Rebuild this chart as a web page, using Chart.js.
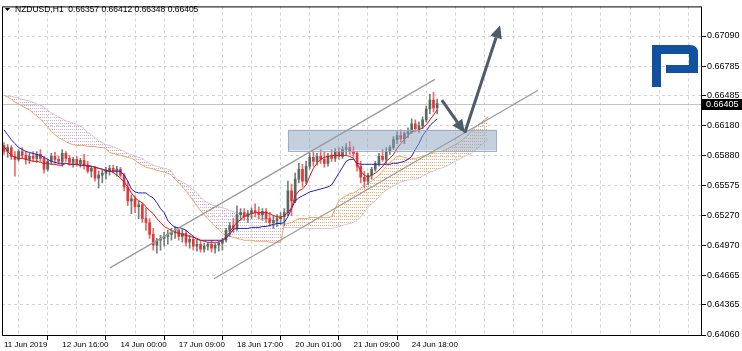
<!DOCTYPE html>
<html>
<head>
<meta charset="utf-8">
<script src="https://cdn.jsdelivr.net/npm/chart.js@4.4.0/dist/chart.umd.min.js"></script>
<style>
html,body{margin:0;padding:0;background:#fff}
#wrap{width:742px;height:351px;position:relative}
</style>
</head>
<body>
<div id="wrap"><canvas id="c"></canvas></div>
<script>
// NZDUSD, one bar every 2 hours
const title = "NZDUSD,H1  0.66357 0.66412 0.66348 0.66405";
const timeLabels = ["11 Jun 2019","12 Jun 16:00","14 Jun 00:00","17 Jun 09:00","18 Jun 17:00","20 Jun 01:00","21 Jun 09:00","24 Jun 18:00"];
const timeLabelBars = [0,16,32,48,64,80,96,112];
const priceTicks = [0.67090,0.66785,0.66485,0.66180,0.65880,0.65575,0.65270,0.64970,0.64665,0.64365,0.64060];
const lastPrice = 0.66405;

const open = [
0.6598,0.6592,0.6596,0.6587,0.6584,0.6592,0.6588,0.6584,0.6587,0.6585,
0.6589,0.6585,0.6574,0.6582,0.6587,0.6584,0.6582,0.6590,0.6585,0.6581,
0.6584,0.6580,0.6583,0.6578,0.6572,0.6575,0.6565,0.6568,0.6570,0.6572,
0.6575,0.6572,0.6574,0.6568,0.6556,0.6542,0.6544,0.6536,0.6538,0.6524,
0.6520,0.6508,0.6497,0.6502,0.6504,0.6506,0.6508,0.6510,0.6512,0.6506,
0.6509,0.6500,0.6503,0.6496,0.6498,0.6493,0.6496,0.6498,0.6494,0.6497,
0.6499,0.6502,0.6512,0.6517,0.6514,0.6528,0.6530,0.6526,0.6529,0.6532,
0.6530,0.6528,0.6531,0.6524,0.6520,0.6522,0.6524,0.6526,0.6530,0.6552,
0.6542,0.6564,0.6574,0.6562,0.6577,0.6586,0.6582,0.6587,0.6584,0.6580,
0.6587,0.6585,0.6592,0.6587,0.6594,0.6596,0.6592,0.6590,0.6577,0.6566,
0.6562,0.6568,0.6574,0.6580,0.6587,0.6584,0.6592,0.6596,0.6604,0.6608,
0.6605,0.6610,0.6612,0.6620,0.6615,0.6618,0.6624,0.6635,0.6644,0.6636];
const high = [
0.6601,0.6599,0.6598,0.6592,0.6594,0.6596,0.6592,0.6590,0.6592,0.6592,
0.6594,0.6587,0.6584,0.6590,0.6591,0.6587,0.6594,0.6592,0.6588,0.6586,
0.6587,0.6585,0.6589,0.6582,0.6577,0.6577,0.6572,0.6573,0.6576,0.6578,
0.6578,0.6577,0.6576,0.6570,0.6562,0.6548,0.6547,0.6542,0.6540,0.6535,
0.6524,0.6514,0.6504,0.6507,0.6510,0.6512,0.6514,0.6516,0.6514,0.6513,
0.6512,0.6507,0.6506,0.6502,0.6501,0.6499,0.6500,0.6502,0.6499,0.6501,
0.6504,0.6514,0.6520,0.6524,0.6537,0.6534,0.6534,0.6532,0.6535,0.6539,
0.6536,0.6534,0.6534,0.6530,0.6527,0.6528,0.6530,0.6534,0.6562,0.6559,
0.6570,0.6580,0.6579,0.6582,0.6590,0.6592,0.6590,0.6594,0.6592,0.6590,
0.6594,0.6595,0.6596,0.6597,0.6600,0.6602,0.6597,0.6592,0.6582,0.6572,
0.6570,0.6576,0.6582,0.6590,0.6594,0.6596,0.6598,0.6607,0.6612,0.6614,
0.6612,0.6616,0.6625,0.6624,0.6622,0.6627,0.6638,0.6650,0.6652,0.6645];
const low = [
0.6589,0.6586,0.6584,0.6567,0.6582,0.6585,0.6579,0.6580,0.6582,0.6581,
0.6582,0.6570,0.6572,0.6579,0.6580,0.6579,0.6577,0.6582,0.6578,0.6576,
0.6577,0.6576,0.6574,0.6570,0.6566,0.6562,0.6555,0.6560,0.6564,0.6568,
0.6570,0.6567,0.6566,0.6552,0.6537,0.6529,0.6530,0.6524,0.6520,0.6512,
0.6504,0.6492,0.6489,0.6492,0.6496,0.6498,0.6502,0.6504,0.6502,0.6500,
0.6496,0.6494,0.6492,0.6491,0.6490,0.6490,0.6492,0.6490,0.6489,0.6491,
0.6492,0.6500,0.6506,0.6510,0.6512,0.6522,0.6522,0.6520,0.6524,0.6526,
0.6524,0.6522,0.6520,0.6516,0.6514,0.6516,0.6518,0.6517,0.6527,0.6527,
0.6540,0.6560,0.6556,0.6559,0.6574,0.6577,0.6578,0.6580,0.6576,0.6577,
0.6582,0.6582,0.6584,0.6585,0.6589,0.6589,0.6586,0.6572,0.6560,0.6555,
0.6558,0.6564,0.6572,0.6577,0.6582,0.6580,0.6589,0.6594,0.6600,0.6602,
0.6600,0.6606,0.6610,0.6612,0.6611,0.6615,0.6622,0.6630,0.6632,0.6630];
const close = [
0.6592,0.6596,0.6587,0.6584,0.6592,0.6588,0.6584,0.6587,0.6585,0.6589,
0.6585,0.6574,0.6582,0.6587,0.6584,0.6582,0.6590,0.6585,0.6581,0.6584,
0.6580,0.6583,0.6578,0.6572,0.6575,0.6565,0.6568,0.6570,0.6572,0.6575,
0.6572,0.6574,0.6568,0.6556,0.6542,0.6544,0.6536,0.6538,0.6524,0.6520,
0.6508,0.6497,0.6502,0.6504,0.6506,0.6508,0.6510,0.6512,0.6506,0.6509,
0.6500,0.6503,0.6496,0.6498,0.6493,0.6496,0.6498,0.6494,0.6497,0.6499,
0.6502,0.6512,0.6517,0.6514,0.6528,0.6530,0.6526,0.6529,0.6532,0.6530,
0.6528,0.6531,0.6524,0.6520,0.6522,0.6524,0.6526,0.6530,0.6552,0.6542,
0.6564,0.6574,0.6562,0.6577,0.6586,0.6582,0.6587,0.6584,0.6580,0.6587,
0.6585,0.6592,0.6587,0.6594,0.6596,0.6592,0.6590,0.6577,0.6566,0.6562,
0.6568,0.6574,0.6580,0.6587,0.6584,0.6592,0.6596,0.6604,0.6608,0.6605,
0.6610,0.6612,0.6620,0.6615,0.6618,0.6624,0.6635,0.6644,0.6636,0.66405];

// ichimoku lines
const tenkan = [
0.6597,0.6592,0.6588,0.6586,0.6585,0.6585,0.6584,0.6583,0.6582,0.6582,
0.6581,0.6580,0.6580,0.6579,0.6579,0.6578,0.6578,0.6580,0.6579,0.6579,
0.6579,0.6578,0.6578,0.6578,0.6577,0.6576,0.6575,0.6574,0.6572,0.6572,
0.6571,0.6568,0.6565,0.6561,0.6556,0.6550,0.6545,0.6542,0.6540,0.6536,
0.6532,0.6529,0.6524,0.6520,0.6516,0.6514,0.6512,0.6510,0.6509,0.6508,
0.6507,0.6506,0.6505,0.6504,0.6502,0.6501,0.6500,0.6500,0.6500,0.6500,
0.6502,0.6506,0.6510,0.6516,0.6520,0.6523,0.6526,0.6528,0.6529,0.6530,
0.6530,0.6530,0.6530,0.6529,0.6527,0.6526,0.6525,0.6527,0.6530,0.6535,
0.6547,0.6552,0.6554,0.6558,0.6567,0.6575,0.6580,0.6584,0.6586,0.6587,
0.6588,0.6588,0.6588,0.6588,0.6588,0.6587,0.6585,0.6579,0.6572,0.6568,
0.6566,0.6568,0.6570,0.6573,0.6577,0.6582,0.6585,0.6589,0.6595,0.6600,
0.6604,0.6608,0.6612,0.6613,0.6614,0.6616,0.6619,0.6624,0.6629,0.6634];
const kijun = [
0.6614,0.6609,0.6604,0.6600,0.6596,0.6594,0.6592,0.6591,0.6590,0.6589,
0.6588,0.6586,0.6584,0.6582,0.6581,0.6580,0.6580,0.6580,0.6579,0.6579,
0.6579,0.6578,0.6578,0.6577,0.6577,0.6576,0.6575,0.6574,0.6573,0.6572,
0.6572,0.6572,0.6572,0.6568,0.6562,0.6554,0.6551,0.6550,0.6550,0.6550,
0.6547,0.6545,0.6540,0.6534,0.6530,0.6522,0.6518,0.6515,0.6515,0.6514,
0.6512,0.6509,0.6506,0.6503,0.6502,0.6502,0.6502,0.6502,0.6502,0.6502,
0.6502,0.6504,0.6508,0.6513,0.6514,0.6514,0.6514,0.6514,0.6515,0.6515,
0.6515,0.6516,0.6516,0.6517,0.6518,0.6519,0.6519,0.6520,0.6526,0.6534,
0.6542,0.6545,0.6547,0.6549,0.6551,0.6552,0.6553,0.6554,0.6555,0.6556,
0.6558,0.6564,0.6570,0.6576,0.6582,0.6584,0.6584,0.6580,0.6579,0.6579,
0.6579,0.6579,0.6579,0.6579,0.6579,0.6579,0.6579,0.6580,0.6580,0.6581,
0.6582,0.6584,0.6587,0.6594,0.6600,0.6608,0.6613,0.6618,0.6622,0.6625];
// cloud, runs 13 bars past the last candle
const spanA = [
0.6649,0.6647,0.6645,0.6642,0.6640,0.6638,0.6636,0.6634,0.6631,0.6628,
0.6625,0.6621,0.6617,0.6612,0.6609,0.6606,0.6604,0.6602,0.6600,0.6599,
0.6598,0.6598,0.6598,0.6597,0.6597,0.6597,0.6596,0.6596,0.6595,0.6591,
0.6590,0.6589,0.6588,0.6587,0.6586,0.6585,0.6583,0.6580,0.6578,0.6576,
0.6575,0.6574,0.6573,0.6572,0.6571,0.6570,0.6568,0.6564,0.6560,0.6556,
0.6552,0.6547,0.6542,0.6537,0.6532,0.6528,0.6524,0.6520,0.6516,0.6513,
0.6509,0.6507,0.6506,0.6505,0.6504,0.6503,0.6502,0.6502,0.6502,0.6501,
0.6501,0.6501,0.6501,0.6500,0.6500,0.6500,0.6500,0.6518,0.6519,0.6520,
0.6522,0.6524,0.6524,0.6524,0.6525,0.6525,0.6525,0.6525,0.6525,0.6525,
0.6526,0.6534,0.6542,0.6545,0.6547,0.6549,0.6550,0.6552,0.6555,0.6557,
0.6560,0.6562,0.6565,0.6568,0.6572,0.6577,0.6581,0.6584,0.6587,0.6587,
0.6586,0.6585,0.6585,0.6585,0.6586,0.6587,0.6588,0.6590,0.6591,0.6592,
0.6592,0.6593,0.6595,0.6597,0.6599,0.6601,0.6604,0.6607,0.6611,0.6615,
0.6618,0.6621,0.6624,0.6627];
const spanB = [
0.6649,0.6648,0.6648,0.6647,0.6646,0.6645,0.6644,0.6643,0.6642,0.6640,
0.6639,0.6637,0.6634,0.6631,0.6629,0.6627,0.6625,0.6623,0.6622,0.6621,
0.6619,0.6618,0.6615,0.6611,0.6609,0.6606,0.6603,0.6601,0.6599,0.6598,
0.6597,0.6595,0.6594,0.6592,0.6590,0.6589,0.6587,0.6586,0.6585,0.6582,
0.6580,0.6578,0.6577,0.6576,0.6575,0.6574,0.6572,0.6566,0.6563,0.6561,
0.6559,0.6556,0.6553,0.6550,0.6546,0.6542,0.6540,0.6538,0.6537,0.6536,
0.6535,0.6534,0.6532,0.6531,0.6530,0.6529,0.6529,0.6528,0.6527,0.6526,
0.6525,0.6524,0.6524,0.6523,0.6522,0.6521,0.6520,0.6515,0.6515,0.6515,
0.6515,0.6515,0.6515,0.6514,0.6514,0.6514,0.6514,0.6514,0.6514,0.6514,
0.6514,0.6515,0.6516,0.6517,0.6518,0.6519,0.6520,0.6522,0.6526,0.6530,
0.6535,0.6539,0.6542,0.6546,0.6550,0.6553,0.6555,0.6557,0.6559,0.6561,
0.6562,0.6563,0.6564,0.6564,0.6565,0.6567,0.6569,0.6571,0.6572,0.6574,
0.6575,0.6576,0.6578,0.6580,0.6582,0.6584,0.6586,0.6588,0.6589,0.6592,
0.6595,0.6598,0.6601,0.6604];

// drawings on the chart, [bar, price]
const channelUpper = [[29.1, 0.6474], [118.4, 0.6665]];
const channelLower = [[57.7, 0.6463], [146.7, 0.6654]];
const zoneBars = [78.0, 135.2];
const zonePrices = [0.6593, 0.6614];
const arrowDown = [[120.3, 0.6644], [126.6, 0.6611]];
const arrowUp = [[126.6, 0.6611], [136.3, 0.6720]];

const ctx = document.getElementById('c').getContext('2d');

function dots(color) {
  const s = document.createElement('canvas');
  s.width = 2; s.height = 3;
  const g = s.getContext('2d');
  g.fillStyle = color;
  g.fillRect(0, 0, 1, 1);
  return ctx.createPattern(s, 'repeat');
}

const bull = '#566a60', bear = '#e3373a';
const isUp = close.map((c, i) => c >= open[i]);
const pts = arr => arr.map((v, i) => ({x: i, y: v}));

const drawings = {
  id: 'drawings',
  beforeDatasetsDraw(chart) {
    const c = chart.ctx, a = chart.chartArea, y = chart.scales.y;
    c.save();
    // logo
    c.fillStyle = '#12519f';
    c.beginPath();
    c.moveTo(652, 45); c.lineTo(690, 45);
    c.quadraticCurveTo(698, 45, 698, 53);
    c.lineTo(698, 73); c.lineTo(666, 73); c.lineTo(666, 65);
    c.lineTo(689, 65); c.lineTo(689, 54); c.lineTo(661, 54);
    c.lineTo(661, 87); c.lineTo(652, 87); c.closePath();
    c.fill();
    // price line
    const py = Math.round(y.getPixelForValue(lastPrice)) + 0.5;
    c.strokeStyle = '#c4c4c4'; c.lineWidth = 1;
    c.beginPath(); c.moveTo(a.left, py); c.lineTo(a.right, py); c.stroke();
    c.restore();
  },
  afterDatasetsDraw(chart) {
    const c = chart.ctx, a = chart.chartArea, xs = chart.scales.x, ys = chart.scales.y;
    const P = p => [xs.getPixelForValue(p[0]), ys.getPixelForValue(p[1])];
    c.save();
    c.beginPath(); c.rect(a.left, a.top, a.width, a.height); c.clip();
    // zone
    const x0 = xs.getPixelForValue(zoneBars[0]), x1 = xs.getPixelForValue(zoneBars[1]);
    const y0 = ys.getPixelForValue(zonePrices[1]), y1 = ys.getPixelForValue(zonePrices[0]);
    c.fillStyle = 'rgba(140,162,192,0.5)';
    c.fillRect(x0, y0, x1 - x0, y1 - y0);
    c.strokeStyle = 'rgba(150,170,200,0.9)'; c.lineWidth = 1;
    c.strokeRect(Math.round(x0) + 0.5, Math.round(y0) + 0.5, Math.round(x1 - x0), Math.round(y1 - y0));
    // channel
    c.strokeStyle = '#9c9c9c'; c.lineWidth = 1.3;
    [channelUpper, channelLower].forEach(l => {
      const p = P(l[0]), q = P(l[1]);
      c.beginPath(); c.moveTo(p[0], p[1]); c.lineTo(q[0], q[1]); c.stroke();
    });
    // arrows
    c.strokeStyle = '#4b5c6a'; c.fillStyle = '#4b5c6a'; c.lineWidth = 3;
    [arrowDown, arrowUp].forEach(l => {
      const p = P(l[0]), q = P(l[1]);
      const ang = Math.atan2(q[1] - p[1], q[0] - p[0]);
      const len = 13, hw = 6;
      const bx = q[0] - len * Math.cos(ang), by = q[1] - len * Math.sin(ang);
      c.beginPath(); c.moveTo(p[0], p[1]); c.lineTo(bx, by); c.stroke();
      c.beginPath();
      c.moveTo(q[0], q[1]);
      c.lineTo(bx + hw * Math.sin(ang), by - hw * Math.cos(ang));
      c.lineTo(bx - hw * Math.sin(ang), by + hw * Math.cos(ang));
      c.closePath(); c.fill();
    });
    c.restore();
  },
  afterDraw(chart) {
    const c = chart.ctx, a = chart.chartArea, ys = chart.scales.y;
    c.save();
    c.strokeStyle = '#000'; c.lineWidth = 1;
    c.strokeRect(a.left + 0.5, a.top + 0.5, a.width - 1, a.height - 1);
    // title
    c.fillStyle = '#000';
    c.beginPath(); c.moveTo(5, 8); c.lineTo(10, 8); c.lineTo(7.5, 11); c.closePath(); c.fill();
    c.font = "8.5px 'Liberation Sans'";
    c.textBaseline = 'middle'; c.textAlign = 'left';
    c.fillText(title, 15, 10);
    // current price tag
    const py = Math.round(ys.getPixelForValue(lastPrice));
    c.fillRect(a.right, py - 5, 40, 11);
    c.fillStyle = '#fff';
    c.font = "9px 'Liberation Sans'";
    c.fillText(lastPrice.toFixed(5), a.right + 4, py + 0.5);
    c.restore();
  }
};

new Chart(ctx, {
  type: 'bar',
  data: {
    datasets: [
      {type: 'line', data: pts(tenkan), borderColor: '#e01212', borderWidth: 1, pointRadius: 0, fill: false, order: 0},
      {type: 'line', data: pts(kijun), borderColor: '#1f1fc8', borderWidth: 1, pointRadius: 0, fill: false, order: 1},
      {type: 'bar', data: open.map((o, i) => ({x: i, y: [Math.min(o, close[i]), Math.max(o, close[i])]})),
        backgroundColor: isUp.map(u => u ? bull : bear), barThickness: 2, minBarLength: 1, grouped: false, order: 2},
      {type: 'bar', data: high.map((h, i) => ({x: i, y: [low[i], h]})),
        backgroundColor: isUp.map(u => u ? '#72827a' : '#ee6a6a'), barThickness: 1, grouped: false, order: 3},
      {type: 'line', data: pts(spanA), borderColor: '#f2a464', borderWidth: 1, pointRadius: 0,
        fill: {target: '+1', above: dots('#f3a868'), below: dots('#cfaed2')}, order: 4},
      {type: 'line', data: pts(spanB), borderColor: '#dcc4dc', borderWidth: 1, pointRadius: 0, fill: false, order: 5}
    ]
  },
  options: {
    responsive: true,
    maintainAspectRatio: false,
    animation: false,
    devicePixelRatio: 1,
    layout: {padding: {left: 2, top: 3, right: 0, bottom: 0}},
    plugins: {legend: {display: false}, tooltip: {enabled: false}},
    scales: {
      x: {
        type: 'linear', min: -0.55, max: 191.76, offset: false,
        afterBuildTicks: s => {
          const t = [];
          for (let v = 0; v <= 184; v += 8) t.push({value: v});
          s.ticks = t;
        },
        afterFit: s => { s.height = 15; },
        ticks: {
          autoSkip: false, maxRotation: 0, minRotation: 0, align: 'start', padding: 0,
          color: '#000', font: {family: 'Liberation Sans', size: 8},
          callback: v => { const k = timeLabelBars.indexOf(v); return k >= 0 ? timeLabels[k] : ''; }
        },
        grid: {
          color: '#d4d4d4', lineWidth: 1, tickLength: 4,
          tickColor: c => (c.tick && timeLabelBars.indexOf(c.tick.value) >= 0) ? '#000' : 'rgba(0,0,0,0)'
        },
        border: {display: false, dash: [3, 3]}
      },
      y: {
        position: 'right', min: 0.64050, max: 0.67390,
        afterBuildTicks: s => { s.ticks = priceTicks.map(v => ({value: v})); },
        afterFit: s => { s.width = 40; },
        ticks: {
          color: '#000', font: {family: 'Liberation Sans', size: 9}, padding: 1,
          callback: v => v.toFixed(5)
        },
        grid: {color: '#d4d4d4', lineWidth: 1, tickLength: 4, tickColor: '#000'},
        border: {display: false, dash: [3, 3]}
      }
    }
  },
  plugins: [drawings]
});
</script>
</body>
</html>
